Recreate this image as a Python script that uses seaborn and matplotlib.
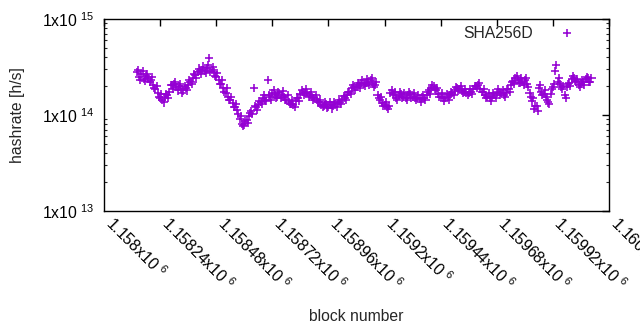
import numpy as np
import pandas as pd
import matplotlib
matplotlib.use("Agg")
import matplotlib.pyplot as plt
import matplotlib.ticker as mticker
import seaborn as sns

# ---- data ----
# hashrate in units of 1e14 h/s, one reading every 10 blocks from block 1158140
block_start = 1158140
block_step = 10
hashrate_e14 = [
    2.8, 2.5, 2.65, 2.35, 2.55, 2.4, 2.3, 2.05, 1.85, 1.7,
    1.5, 1.42, 1.55, 1.6, 1.75, 2.05, 2.1, 1.95, 2.0, 1.85,
    1.8, 1.9, 2.05, 2.2, 2.45, 2.6, 2.8, 2.9, 2.95, 2.85,
    3.1, 3.9, 2.95, 2.8, 2.5, 2.3, 2.1, 1.9, 1.7, 1.55,
    1.42, 1.33, 1.22, 1.12, 0.9, 0.8, 0.78, 0.88, 0.98, 1.1,
    1.92, 1.2, 1.27, 1.38, 1.5, 1.45, 2.3, 1.55, 1.7, 1.6,
    1.55, 1.68, 1.62, 1.55, 1.45, 1.38, 1.3, 1.27, 1.4, 1.5,
    1.65, 1.75, 1.7, 1.7, 1.6, 1.55, 1.5, 1.42, 1.35, 1.28,
    1.25, 1.3, 1.22, 1.27, 1.25, 1.3, 1.33, 1.38, 1.45, 1.52,
    1.62, 1.75, 1.9, 1.95, 1.98, 2.05, 2.15, 2.1, 2.15, 2.2,
    2.3, 2.1, 2.05, 1.6, 1.45, 1.33, 1.28, 1.2, 1.25, 1.8,
    1.6, 1.5, 1.58, 1.65, 1.55, 1.52, 1.6, 1.65, 1.55, 1.52,
    1.5, 1.48, 1.52, 1.5, 1.6, 1.8, 1.9, 1.98, 1.8, 1.65,
    1.55, 1.5, 1.52, 1.55, 1.62, 1.7, 1.8, 1.92, 1.85, 1.8,
    1.72, 1.68, 1.7, 1.75, 1.85, 2.0, 2.05, 1.85, 1.72, 1.62,
    1.55, 1.5, 1.55, 1.62, 1.7, 1.75, 1.7, 1.62, 1.7, 1.85,
    2.05, 2.25, 2.4, 2.3, 2.15, 2.2, 2.3, 2.1, 1.7, 1.4,
    1.15, 1.25, 1.9, 1.75, 1.65, 1.55, 1.35, 1.65, 1.95, 2.9,
    2.2, 2.1, 1.85, 1.6, 1.95, 2.15, 2.35, 2.45, 2.2, 2.05,
    2.1, 2.2, 2.35, 2.4, 2.2,
]
# readings of the blocks in between (from block 1158145), upper/lower band edges
block_start_b = 1158145
hashrate_b_e14 = [
    2.95, 2.3, 2.85, 2.25, 2.7, 2.2, 2.5, 1.9, 2.0, 1.55,
    1.65, 1.35, 1.65, 1.5, 2.05, 1.85, 2.2, 1.8, 2.1, 1.7,
    2.0, 1.8, 2.3, 2.1, 2.7, 2.4, 3.05, 2.65, 3.2, 2.75,
    3.3, 2.8, 3.15, 2.55, 2.75, 2.1, 2.3, 1.75, 1.9, 1.42,
    1.55, 1.22, 1.3, 1.02, 0.98, 0.76, 0.86, 0.82, 1.05, 1.02,
    1.25, 1.12, 1.4, 1.3, 1.62, 1.4, 1.62, 1.45, 1.8, 1.52,
    1.75, 1.5, 1.78, 1.45, 1.6, 1.3, 1.42, 1.2, 1.52, 1.4,
    1.82, 1.6, 1.85, 1.55, 1.75, 1.45, 1.62, 1.35, 1.45, 1.2,
    1.35, 1.18, 1.38, 1.17, 1.36, 1.22, 1.45, 1.3, 1.58, 1.42,
    1.75, 1.65, 2.05, 1.82, 2.15, 1.92, 2.3, 2.0, 2.35, 2.05,
    2.4, 1.95, 2.2, 1.5, 1.55, 1.25, 1.38, 1.15, 1.7, 1.65,
    1.72, 1.42, 1.72, 1.5, 1.7, 1.45, 1.75, 1.5, 1.68, 1.42,
    1.62, 1.38, 1.62, 1.42, 1.75, 1.65, 2.05, 1.85, 1.9, 1.55,
    1.68, 1.4, 1.65, 1.45, 1.75, 1.6, 1.95, 1.78, 2.0, 1.7,
    1.85, 1.6, 1.85, 1.65, 2.0, 1.9, 2.15, 1.75, 1.85, 1.52,
    1.68, 1.4, 1.68, 1.52, 1.85, 1.62, 1.82, 1.55, 1.85, 1.75,
    2.2, 2.1, 2.55, 2.15, 2.4, 2.05, 2.45, 1.95, 1.55, 1.5,
    1.25, 1.1, 2.05, 1.62, 1.8, 1.45, 1.3, 1.85, 2.1, 3.3,
    2.4, 1.95, 2.0, 1.5, 2.1, 2.0, 2.55, 2.25, 2.35, 1.95,
    2.3, 2.05, 2.5, 2.2, 2.4,
]
series_name = "SHA256D"
x_ticks = [1158000, 1158240, 1158480, 1158720, 1158960,
           1159200, 1159440, 1159680, 1159920, 1160160]
x_tick_labels = ["1.158", "1.15824", "1.15848", "1.15872", "1.15896",
                 "1.1592", "1.15944", "1.15968", "1.15992", "1.16016"]
y_ticks = [1e13, 1e14, 1e15]
y_tick_exps = ["13", "14", "15"]
x_label = "block number"
y_label = "hashrate [h/s]"

blocks_a = [block_start + block_step * i for i in range(len(hashrate_e14))]
blocks_b = [block_start_b + block_step * i for i in range(len(hashrate_b_e14))]
df = pd.DataFrame({"block": blocks_a + blocks_b,
                   "hashrate": [v * 1e14 for v in hashrate_e14 + hashrate_b_e14]})
df["series"] = series_name
df = df.sort_values("block")

sns.set_theme(style="white")
plt.rcParams["font.family"] = ["Liberation Sans", "DejaVu Sans"]
plt.rcParams["mathtext.fontset"] = "custom"
plt.rcParams["mathtext.rm"] = "Liberation Sans"
FS = 11.3

fig = plt.figure(figsize=(6.4, 3.3), dpi=100)
ax = fig.add_axes([104 / 640, 1 - 211 / 330, (609 - 104) / 640, (211 - 19) / 330])

color = "#9400D3"
sns.scatterplot(data=df, x="block", y="hashrate", hue="series",
                palette=[color], marker="+", s=34, linewidth=1.15,
                ax=ax, legend=True)

ax.set_yscale("log")
ax.set_ylim(1e13, 1e15)
ax.set_xlim(x_ticks[0], x_ticks[-1])

ax.set_xticks(x_ticks)
ax.set_xticklabels([f"{t}x10 $^{{\\mathregular{{6}}}}$" for t in x_tick_labels],
                   rotation=-45, ha="left", va="baseline", rotation_mode="anchor",
                   fontsize=FS)

ax.set_yticks(y_ticks)
ax.set_yticklabels([f"1x10 $^{{\\mathregular{{{e}}}}}$" for e in y_tick_exps],
                   fontsize=FS)
ax.yaxis.set_minor_locator(mticker.LogLocator(base=10, subs=np.arange(2, 10)))
ax.yaxis.set_minor_formatter(mticker.NullFormatter())

ax.tick_params(axis="both", which="major", direction="in", length=5, width=1,
               top=True, right=True, colors="black", pad=7)
ax.tick_params(axis="y", which="minor", direction="in", length=2.5, width=0.8,
               left=True, right=True)
ax.tick_params(axis="x", which="major", pad=10)
for sp in ax.spines.values():
    sp.set_color("black")
    sp.set_linewidth(1)

ax.set_xlabel(x_label, fontsize=FS, labelpad=11)
ax.set_ylabel(y_label, fontsize=FS, labelpad=12)

handles, labels = ax.get_legend_handles_labels()
ax.legend(handles, [series_name], loc="upper right", frameon=False,
          markerfirst=False, fontsize=FS, handlelength=2.0,
          handletextpad=1.2, bbox_to_anchor=(0.97, 1.02), borderaxespad=0.3)

fig.savefig("out.png", dpi=100)
